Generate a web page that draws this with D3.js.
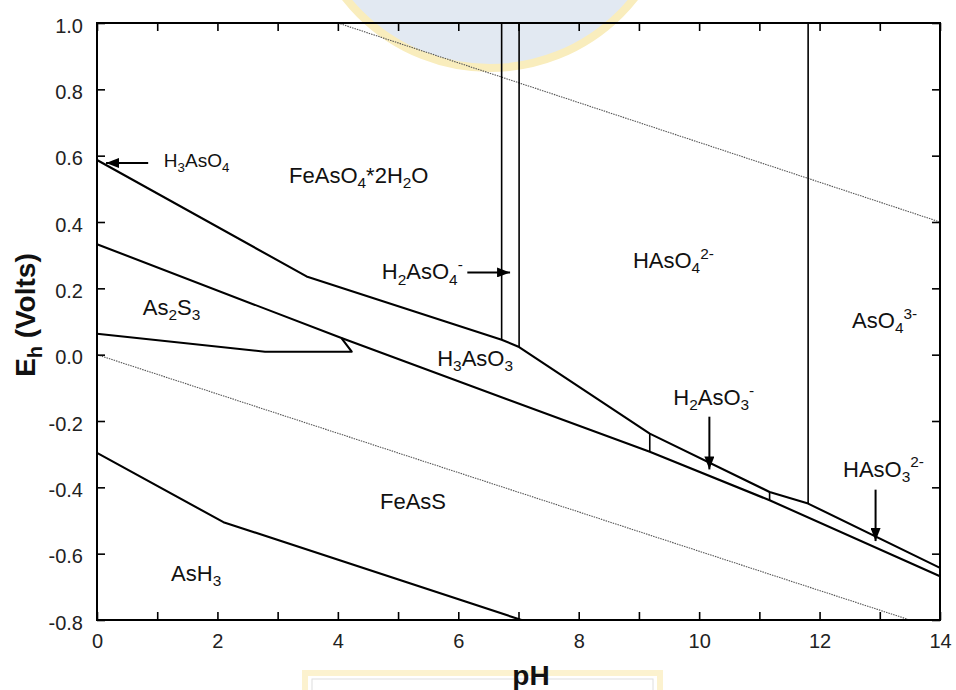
<!DOCTYPE html>
<html>
<head>
<meta charset="utf-8">
<script src="https://cdn.jsdelivr.net/npm/d3@7"></script>
<style>
  html, body { margin: 0; padding: 0; background: #fff; }
  svg { display: block; font-family: Arial, "Liberation Sans", sans-serif; }
</style>
</head>
<body>
<div id="chart"></div>
<script>
// axis ticks
const xTicks = d3.range(0, 15, 1);
const xLabelTicks = [0, 2, 4, 6, 8, 10, 12, 14];
const yTicks = [-0.8, -0.6, -0.4, -0.2, 0.0, 0.2, 0.4, 0.6, 0.8, 1.0];

// stability field boundaries, [pH, Eh]
const arsenateLine = [[0, 0.587], [3.48, 0.236], [6.72, 0.045], [7.01, 0.023], [9.18, -0.238], [11.17, -0.414], [11.81, -0.449], [14, -0.643]];
const feAsSLine = [[0, 0.333], [4.06, 0.05], [9.18, -0.293], [11.17, -0.439], [14, -0.668]];
const as2s3Line = [[0, 0.063], [2.79, 0.009], [4.23, 0.009], [4.06, 0.05]];
const arsineLine = [[0, -0.296], [2.10, -0.505], [7.05, -0.8]];
const verticals = [
  [[6.72, 1.0], [6.72, 0.045]],
  [[7.01, 1.0], [7.01, 0.023]],
  [[11.81, 1.0], [11.81, -0.449]],
  [[9.18, -0.238], [9.18, -0.293]],
  [[11.17, -0.414], [11.17, -0.439]],
];

// water stability limits
const waterUpper = [[4.0, 1.0], [14, 0.40]];
const waterLower = [[0, 0.0], [13.5, -0.8]];

// species labels: text, pH, Eh (left/baseline), size
const labels = [
  ["H_3AsO_4", 1.11, 0.566, 19],
  ["FeAsO_4*2H_2O", 3.19, 0.518, 22],
  ["H_2AsO_4^{-}", 4.73, 0.228, 22],
  ["HAsO_4^{2-}", 8.90, 0.262, 22],
  ["AsO_4^{3-}", 12.54, 0.081, 22],
  ["As_2S_3", 0.76, 0.12, 22],
  ["H_3AsO_3", 5.65, -0.034, 22],
  ["FeAsS", 4.70, -0.465, 22],
  ["AsH_3", 1.23, -0.681, 22],
  ["H_2AsO_3^{-}", 9.57, -0.151, 22],
  ["HAsO_3^{2-}", 12.39, -0.368, 22],
];

// pointer arrows, [from, to]
const arrows = [
  [[0.85, 0.578], [0.15, 0.578]],
  [[6.15, 0.248], [6.86, 0.248]],
  [[10.17, -0.187], [10.17, -0.346]],
  [[12.93, -0.407], [12.93, -0.562]],
];

const WIDTH = 956;
const HEIGHT = 690;
const margin = { top: 23, right: 16, bottom: 70, left: 97 };

const x = d3.scaleLinear().domain([0, 14]).range([margin.left, WIDTH - margin.right]);
const y = d3.scaleLinear().domain([-0.8, 1.0]).range([HEIGHT - margin.bottom, margin.top]);

const svg = d3
  .select("#chart")
  .append("svg")
  .attr("width", WIDTH)
  .attr("height", HEIGHT);

// faint watermark behind the plot
const mark = svg.append("g").attr("class", "watermark");
mark
  .append("circle")
  .attr("cx", 490)
  .attr("cy", -116)
  .attr("r", 184)
  .attr("fill", "#e2e9f2")
  .attr("stroke", "#f9edbd")
  .attr("stroke-width", 8);
mark
  .append("rect")
  .attr("x", 305)
  .attr("y", 673)
  .attr("width", 355)
  .attr("height", 40)
  .attr("fill", "#fff")
  .attr("stroke", "#fcf2cf")
  .attr("stroke-width", 6);
mark
  .append("rect")
  .attr("x", 312)
  .attr("y", 679)
  .attr("width", 341)
  .attr("height", 30)
  .attr("fill", "none")
  .attr("stroke", "#dedede")
  .attr("stroke-width", 1);

svg
  .append("defs")
  .append("marker")
  .attr("id", "arrow")
  .attr("viewBox", "0 -5 13 10")
  .attr("refX", 13)
  .attr("refY", 0)
  .attr("markerWidth", 13)
  .attr("markerHeight", 10)
  .attr("markerUnits", "userSpaceOnUse")
  .attr("orient", "auto")
  .append("path")
  .attr("d", "M0,-5L13,0L0,5Z")
  .attr("fill", "#000");

const line = d3.line().x((d) => x(d[0])).y((d) => y(d[1]));

const plot = svg.append("g").attr("class", "plot");

plot
  .selectAll("path.water")
  .data([waterUpper, waterLower])
  .join("path")
  .attr("class", "water")
  .attr("d", line)
  .attr("fill", "none")
  .attr("stroke", "#555")
  .attr("stroke-width", 1.1)
  .attr("stroke-dasharray", "1.5,1");

plot
  .selectAll("path.vert")
  .data(verticals)
  .join("path")
  .attr("class", "vert")
  .attr("d", line)
  .attr("fill", "none")
  .attr("stroke", "#000")
  .attr("stroke-width", 1.6);

plot
  .selectAll("path.boundary")
  .data([arsenateLine, feAsSLine, as2s3Line, arsineLine])
  .join("path")
  .attr("class", "boundary")
  .attr("d", line)
  .attr("fill", "none")
  .attr("stroke", "#000")
  .attr("stroke-width", 2.1)
  .attr("stroke-linejoin", "round");

plot
  .selectAll("path.arrow")
  .data(arrows)
  .join("path")
  .attr("class", "arrow")
  .attr("d", line)
  .attr("stroke", "#000")
  .attr("stroke-width", 2)
  .attr("marker-end", "url(#arrow)");

// text with _sub and ^sup pieces
function richText(sel, str, size) {
  const parts = str.split(/([_^]\{[^}]*\}|[_^].)/).filter((s) => s.length);
  let offset = 0;
  parts.forEach((p) => {
    let txt = p;
    let target = 0;
    let fs = size;
    if (p[0] == "_" || p[0] == "^") {
      txt = p.slice(1).replace(/[{}]/g, "");
      fs = size * 0.7;
      target = p[0] == "_" ? size * 0.25 : -size * 0.42;
    }
    sel
      .append("tspan")
      .attr("dy", target - offset)
      .attr("font-size", fs)
      .text(txt);
    offset = target;
  });
}

plot
  .selectAll("text.species")
  .data(labels)
  .join("text")
  .attr("class", "species")
  .attr("x", (d) => x(d[1]))
  .attr("y", (d) => y(d[2]))
  .attr("fill", "#111")
  .attr("font-size", (d) => d[3])
  .each(function (d) {
    richText(d3.select(this), d[0], d[3]);
  });

// axes, ticks inward on all four sides
const axes = svg.append("g").attr("class", "axes");

axes
  .append("g")
  .attr("transform", `translate(0,${y(-0.8)})`)
  .call(
    d3.axisBottom(x)
      .tickValues(xTicks)
      .tickSizeInner(-8)
      .tickSizeOuter(0)
      .tickPadding(14)
      .tickFormat((d) => (xLabelTicks.includes(d) ? d : ""))
  );

axes
  .append("g")
  .attr("transform", `translate(0,${y(1.0)})`)
  .call(d3.axisTop(x).tickValues(xTicks).tickSizeInner(-8).tickSizeOuter(0).tickFormat(""));

axes
  .append("g")
  .attr("transform", `translate(${x(0)},0)`)
  .call(
    d3.axisLeft(y)
      .tickValues(yTicks)
      .tickSizeInner(-8)
      .tickSizeOuter(0)
      .tickPadding(14)
      .tickFormat((d) => d.toFixed(1))
  );

axes
  .append("g")
  .attr("transform", `translate(${x(14)},0)`)
  .call(d3.axisRight(y).tickValues(yTicks).tickSizeInner(-8).tickSizeOuter(0).tickFormat(""));

axes.selectAll(".domain").remove();
axes.selectAll(".tick line").attr("stroke", "#000").attr("stroke-width", 1.6);
axes
  .selectAll(".tick text")
  .attr("font-size", 20)
  .attr("font-family", "Arial, 'Liberation Sans', sans-serif")
  .attr("fill", "#222");
axes.selectAll(".tick text").filter(function () {
  return this.parentNode.parentNode.getAttribute("transform") == `translate(${x(0)},0)`;
}).attr("dy", "0.45em");

axes
  .append("rect")
  .attr("x", x(0))
  .attr("y", y(1.0))
  .attr("width", x(14) - x(0))
  .attr("height", y(-0.8) - y(1.0))
  .attr("fill", "none")
  .attr("stroke", "#000")
  .attr("stroke-width", 2);

// axis titles
const yTitle = svg
  .append("text")
  .attr("transform", "translate(35,315) rotate(-90)")
  .attr("text-anchor", "middle")
  .attr("font-size", 28)
  .attr("font-weight", "bold")
  .attr("fill", "#111");
richText(yTitle, "E_h (Volts)", 28);

svg
  .append("text")
  .attr("x", 531)
  .attr("y", 685)
  .attr("text-anchor", "middle")
  .attr("font-size", 28)
  .attr("font-weight", "bold")
  .attr("fill", "#111")
  .text("pH");
</script>
</body>
</html>
